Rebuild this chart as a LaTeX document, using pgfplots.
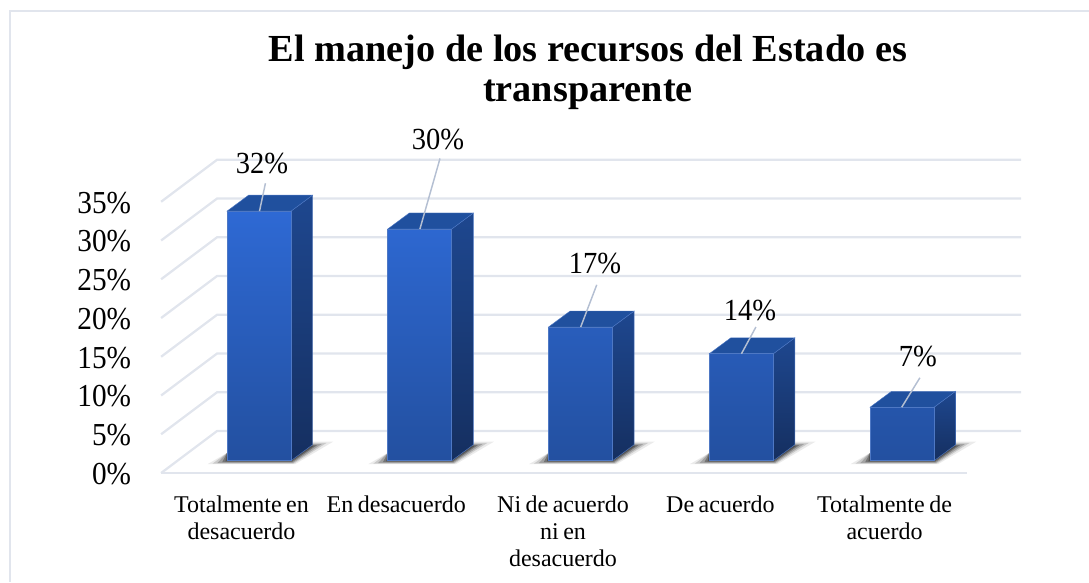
\documentclass[border=0pt]{standalone}
\usepackage{fontspec}
\setmainfont{Liberation Serif}
\newfontfamily\tallserif[FakeStretch=0.915]{Liberation Serif}
\newfontfamily\talldata[FakeStretch=0.93]{Liberation Serif}
\newfontfamily\xlab[WordSpace=0.75]{Liberation Serif}
\usepackage{pgfplots}
\pgfplotsset{compat=1.18}
\definecolor{gridc}{HTML}{E1E5ED}
\definecolor{leader}{HTML}{B4BFD2}
\definecolor{ftop}{HTML}{2E69D4}
\definecolor{fbot}{HTML}{2350A0}
\definecolor{stop}{HTML}{1E478F}
\definecolor{sbot}{HTML}{152F60}
\definecolor{ttop}{HTML}{20509E}
\definecolor{edgec}{HTML}{4E78C4}
\newcommand\gridl[2]{\addplot[gridc,line width=1.7pt,line join=round,forget plot] coordinates {(-0.5,#1) (-0.152,#2) (4.849,#2)};}
\newcommand\shad[1]{%
\addplot[draw=none,fill=black,fill opacity=0.08,xshift=#1*120.56pt,forget plot] coordinates {(-0.21,-0.43) (0.335,-0.43) (0.57,2.45) (0.34,2.45) (-0.09,1)} --cycle;
\addplot[draw=none,fill=black,fill opacity=0.14,xshift=#1*120.56pt,forget plot] coordinates {(-0.18,-0.38) (0.325,-0.38) (0.53,2.3) (0.33,2.3) (-0.09,1)} --cycle;
\addplot[draw=none,fill=black,fill opacity=0.20,xshift=#1*120.56pt,forget plot] coordinates {(-0.15,-0.30) (0.32,-0.30) (0.50,2.15) (0.32,2.15) (-0.09,1)} --cycle;
\addplot[draw=none,fill=black,fill opacity=0.28,xshift=#1*120.56pt,forget plot] coordinates {(-0.12,-0.2) (0.315,-0.2) (0.47,2.0) (0.32,2.0) (-0.09,1)} --cycle;
\addplot[draw=none,fill=black,fill opacity=0.30,xshift=#1*120.56pt,forget plot] coordinates {(-0.10,-0.1) (0.31,-0.1) (0.45,1.9) (0.32,1.9) (-0.09,1)} --cycle;
}
% side and top face: x left, x right, x right back, x left back, value, value back
\newcommand\faces[6]{%
\addplot[draw=edgec,line width=0.3pt,top color=stop,bottom color=sbot,forget plot] coordinates {(#2,0) (#3,2.06) (#3,#6) (#2,#5)} --cycle;
\addplot[draw=edgec,line width=0.3pt,fill=ttop,forget plot] coordinates {(#1,#5) (#2,#5) (#3,#6) (#4,#6)} --cycle;
}
\newcommand\lead[4]{\addplot[leader,line width=1.1pt,forget plot] coordinates {(#1,#2) (#3,#4)};}
\begin{document}
\begin{tikzpicture}
\path[use as bounding box] (0,0) rectangle (816.75pt,436.5pt);
\draw[gridc,line width=1.5pt] (7.6pt,0pt) -- (7.6pt,428.6pt) -- (816.75pt,428.6pt);
\begin{axis}[
  at={(120.83pt,90.98pt)}, anchor=south west,
  scale only axis, width=602.85pt, height=203.44pt,
  xmin=-0.5, xmax=4.5, ymin=0, ymax=35,
  clip=false,
  axis line style={draw=none},
  major tick length=0pt,
  tick style={draw=none},
  xtick={0,1,2,3,4},
  xticklabels={Totalmente en\\desacuerdo,En desacuerdo\rule{9pt}{0pt},Ni de acuerdo\\ni en\\desacuerdo,De acuerdo\rule{5pt}{0pt},Totalmente de\\acuerdo},
  xticklabel style={font=\xlab\fontsize{18}{20.25}\selectfont,text width=130pt,align=flush center,anchor=north,yshift=-22.5pt},
  ytick={0,5,10,15,20,25,30,35},
  yticklabels={0\%,5\%,10\%,15\%,20\%,25\%,30\%,35\%},
  yticklabel style={font=\tallserif\fontsize{24}{26}\selectfont,anchor=east,xshift=-19pt,yshift=-10pt},
  title={El manejo de los recursos del Estado es\\transparente},
  title style={font=\fontsize{28.7}{30}\selectfont\bfseries,align=center,at={(axis description cs:0.531,1.401)},anchor=center},
]
\gridl{-1.59}{3.83}
\gridl{3.41}{8.83}
\gridl{8.41}{13.83}
\gridl{13.41}{18.83}
\gridl{18.41}{23.83}
\gridl{23.41}{28.83}
\gridl{28.41}{33.83}
\gridl{33.41}{38.83}
\addplot[gridc,line width=1.7pt,forget plot] coordinates {(-0.5,-1.59) (4.51,-1.59)};
\shad{0}\shad{1}\shad{2}\shad{3}\shad{4}
\faces{-0.09}{0.308}{0.442}{0.044}{32.2}{34.26}
\faces{0.91}{1.308}{1.442}{1.044}{29.9}{31.96}
\faces{1.91}{2.308}{2.442}{2.044}{17.25}{19.31}
\faces{2.91}{3.308}{3.442}{3.044}{13.8}{15.86}
\faces{3.91}{4.308}{4.442}{4.044}{6.9}{8.96}
\addplot[ybar,bar width=48pt,bar shift=13.14pt,draw=edgec,line width=0.5pt,top color=ftop,bottom color=fbot,forget plot] coordinates {(0,32.2) (1,29.9) (2,17.25) (3,13.8) (4,6.9)};
\lead{0.112}{32.2}{0.149}{35.8}
\lead{1.110}{29.9}{1.235}{39.0}
\lead{2.110}{17.25}{2.210}{22.7}
\lead{3.110}{13.8}{3.200}{17.25}
\lead{4.107}{6.9}{4.220}{10.7}
\node[font=\talldata\fontsize{23}{25}\selectfont] at (axis cs:0.1275,38.4) {32\%};
\node[font=\talldata\fontsize{23}{25}\selectfont] at (axis cs:1.222,41.4) {30\%};
\node[font=\talldata\fontsize{23}{25}\selectfont] at (axis cs:2.199,25.4) {17\%};
\node[font=\talldata\fontsize{23}{25}\selectfont] at (axis cs:3.163,19.4) {14\%};
\node[font=\talldata\fontsize{23}{25}\selectfont] at (axis cs:4.208,13.4) {7\%};
\end{axis}
\end{tikzpicture}
\end{document}
